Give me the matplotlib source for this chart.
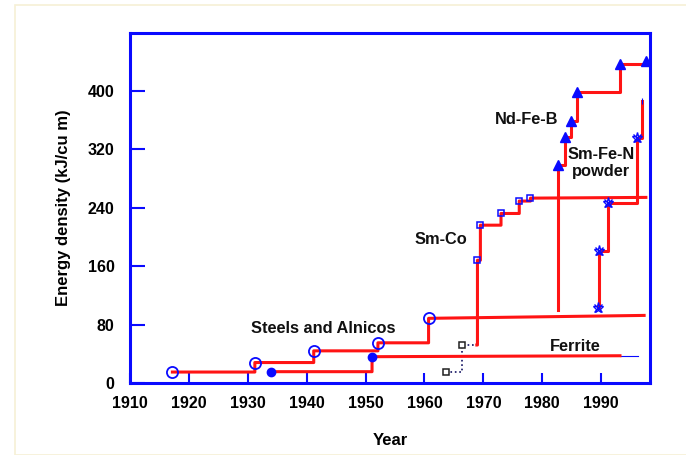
import matplotlib
matplotlib.use("Agg")
import matplotlib.pyplot as plt
from matplotlib.patches import Rectangle

plt.rcParams['font.family'] = ['Liberation Sans', 'DejaVu Sans']

# --- data (year, energy density kJ/cu m) ---
steel_years = [1917.2, 1931.2, 1941.2, 1952.1, 1960.7]
steel_vals = [15, 28, 44, 55, 88.5]
steel_end = (1997.3, 92.5)

alnico_years = [1933.9, 1951.1]
alnico_vals = [15.5, 36]
alnico_end = (1993.2, 37.3)
alnico_tail = (1996.2, 37.3)

ferrite_years = [1963.6, 1966.3]
ferrite_vals = [15.5, 52]

smco_start = (1968.9, 52)
smco_years = [1969.0, 1969.5, 1973.0, 1976.1, 1978.0]
smco_vals = [168, 216, 232, 249, 253]
smco_end = (1997.6, 254)

ndfeb_start = (1982.6, 100)
ndfeb_years = [1982.6, 1983.9, 1984.9, 1985.9, 1993.2, 1997.7]
ndfeb_vals = [298, 336, 358, 398, 437, 441]

smfen_years = [1989.5, 1989.7, 1991.2, 1996.1]
smfen_vals = [102, 180, 246, 335]
smfen_top = (1997.0, 386)

xtick_years = [1910, 1920, 1930, 1940, 1950, 1960, 1970, 1980, 1990]
ytick_vals = [0, 80, 160, 240, 320, 400]

RED = '#ff1414'
BLUE = '#0a0aff'


def steps(xs, ys, end=None, start=None):
    # horizontal then vertical, like a record staircase
    px, py = [], []
    if start is not None:
        px.append(start[0])
        py.append(start[1])
    for x, y in zip(xs, ys):
        if px:
            px.append(x)
            py.append(py[-1])
        px.append(x)
        py.append(y)
    if end is not None:
        px.append(end[0])
        py.append(end[1])
    return px, py


fig = plt.figure(figsize=(6.86, 4.55), dpi=100)
fig.patches.append(Rectangle((15 / 686, 0), 1, 1 - 5 / 455, transform=fig.transFigure,
                             fill=False, edgecolor='#f6f0d6', linewidth=1.2))
ax = fig.add_axes([130 / 686, 1 - 383 / 455, 520 / 686, 350 / 455])

lw = 2.2

# Steels and Alnicos (open circles)
x, y = steps(steel_years, steel_vals, steel_end)
ax.plot(x, y, color=RED, lw=lw, zorder=3)
ax.plot(steel_years, steel_vals, 'o', ms=8, mfc='none', mec=BLUE, mew=1.3, zorder=4)

# lower alnico line (filled dots)
x, y = steps(alnico_years, alnico_vals, alnico_end)
ax.plot(x, y, color=RED, lw=lw, zorder=3)
ax.plot([alnico_end[0], alnico_tail[0]], [alnico_end[1], alnico_tail[1]], color=BLUE, lw=0.8)
ax.plot(alnico_years, alnico_vals, 'o', ms=6, color=BLUE, zorder=4)

# ferrite dotted lead-in
x, y = steps(ferrite_years, ferrite_vals, smco_start)
ax.plot(x, y, ':', color='#101060', lw=1.2, zorder=2)
ax.plot(ferrite_years, ferrite_vals, 's', ms=5, mfc='white', mec='#202020', mew=1.1, zorder=4)

# Sm-Co (open squares)
x, y = steps(smco_years, smco_vals, smco_end, start=smco_start)
ax.plot(x, y, color=RED, lw=lw, zorder=3)
ax.plot(smco_years, smco_vals, 's', ms=5, mfc='none', mec=BLUE, mew=1.1, zorder=4)

# Nd-Fe-B (triangles)
x, y = steps(ndfeb_years, ndfeb_vals, start=ndfeb_start)
ax.plot(x, y, color=RED, lw=lw, zorder=3)
ax.plot(ndfeb_years, ndfeb_vals, '^', ms=7, color=BLUE, zorder=4)

# Sm-Fe-N powder (asterisks)
x, y = steps(smfen_years + [smfen_top[0]], smfen_vals + [smfen_top[1]])
ax.plot(x, y, color=RED, lw=lw, zorder=3)
ax.plot(smfen_years, smfen_vals, '*', ms=8, mfc='none', mec=BLUE, mew=1.0, zorder=4)
ax.plot(smfen_years, smfen_vals, 'x', ms=6, color=BLUE, mew=1.0, zorder=4)
ax.plot([smfen_top[0]], [smfen_top[1]], '|', ms=4, color=BLUE, mew=0.8, zorder=4)

# labels on the plot
tkw = dict(fontsize=11.8, fontweight='bold', ha='center', va='center', color='#111111')
ax.text(1942.8, 74, 'Steels and Alnicos', **tkw)
ax.text(1985.6, 50.5, 'Ferrite', **tkw)
ax.text(1962.8, 197, 'Sm-Co', **tkw)
ax.text(1977.3, 360, 'Nd-Fe-B', **tkw)
ax.text(1990.0, 301, 'Sm-Fe-N\npowder', linespacing=1.15, **tkw)

ax.set_xlim(1910, 1998.3)
ax.set_ylim(0, 479)
ax.set_xticks(xtick_years)
ax.set_yticks(ytick_vals)
ax.tick_params(axis='x', direction='in', length=7, width=1.5, color=BLUE, pad=9)
ax.tick_params(axis='y', direction='in', length=11, width=1.5, color=BLUE, pad=11)
for lab in ax.get_xticklabels() + ax.get_yticklabels():
    lab.set_fontsize(11.5)
    lab.set_fontweight('bold')
for s in ax.spines.values():
    s.set_color(BLUE)
    s.set_linewidth(2.2)

ax.set_xlabel('Year', fontsize=12, fontweight='bold', labelpad=16)
ax.set_ylabel('Energy density (kJ/cu m)', fontsize=12, fontweight='bold', labelpad=12)

fig.savefig('out.png', dpi=100)
